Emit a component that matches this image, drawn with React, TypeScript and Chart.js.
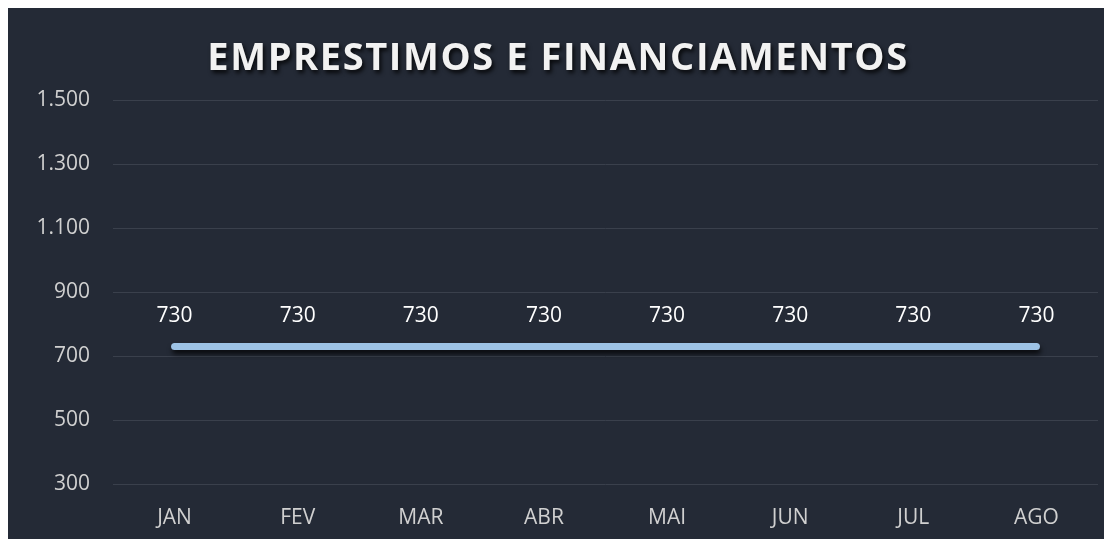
import React, { useEffect, useRef } from "react";
import { Chart, registerables } from "chart.js";

Chart.register(...registerables);

const TITLE = "EMPRESTIMOS E FINANCIAMENTOS";
const MONTHS = ["JAN", "FEV", "MAR", "ABR", "MAI", "JUN", "JUL", "AGO"];
const VALUES = [730, 730, 730, 730, 730, 730, 730, 730];
const Y_MIN = 300;
const Y_MAX = 1500;
const Y_STEP = 200;

const BG = "#242a36";
const FONT = "'Open Sans', sans-serif";

const fmt = (v: number) => v.toLocaleString("pt-BR");

const bgPlugin = {
  id: "bg",
  beforeDraw(chart: any) {
    const { ctx, width, height } = chart;
    ctx.save();
    ctx.fillStyle = BG;
    ctx.fillRect(0, 0, width, height);
    ctx.restore();
  },
};

const titlePlugin = {
  id: "customTitle",
  afterDraw(chart: any) {
    const { ctx, width } = chart;
    ctx.save();
    ctx.font = `bold 38px ${FONT}`;
    (ctx as any).letterSpacing = "1.6px";
    ctx.textAlign = "center";
    ctx.textBaseline = "middle";
    ctx.shadowColor = "rgba(0,0,0,0.8)";
    ctx.shadowOffsetX = 2;
    ctx.shadowOffsetY = 3;
    ctx.shadowBlur = 4;
    ctx.fillStyle = "#f2f2f2";
    ctx.fillText(TITLE, width / 2, 51);
    ctx.restore();
  },
};

const shadowPlugin = {
  id: "lineShadow",
  beforeDatasetDraw(chart: any) {
    const ctx = chart.ctx;
    ctx.save();
    ctx.shadowColor = "rgba(0,0,0,0.75)";
    ctx.shadowOffsetX = 1;
    ctx.shadowOffsetY = 4;
    ctx.shadowBlur = 5;
  },
  afterDatasetDraw(chart: any) {
    chart.ctx.restore();
  },
};

const labelPlugin = {
  id: "dataLabels",
  afterDatasetsDraw(chart: any) {
    const { ctx } = chart;
    const meta = chart.getDatasetMeta(0);
    ctx.save();
    ctx.font = `21px ${FONT}`;
    ctx.fillStyle = "#ffffff";
    ctx.textAlign = "center";
    ctx.textBaseline = "middle";
    meta.data.forEach((pt: any, i: number) => {
      ctx.fillText(fmt(VALUES[i]), pt.x, pt.y - 30);
    });
    ctx.restore();
  },
};

export default function App() {
  const ref = useRef<HTMLCanvasElement | null>(null);

  useEffect(() => {
    if (!ref.current) return;
    const chart = new Chart(ref.current, {
      type: "line",
      data: {
        labels: MONTHS,
        datasets: [
          {
            data: VALUES,
            borderColor: "#9dc3e6",
            borderWidth: 7,
            borderCapStyle: "round",
            pointRadius: 0,
            pointHoverRadius: 0,
            tension: 0,
            fill: false,
          },
        ],
      },
      options: {
        animation: false,
        responsive: false,
        maintainAspectRatio: false,
        layout: { padding: { top: 92, right: 10, left: 0, bottom: 0 } },
        plugins: {
          legend: { display: false },
          title: { display: false },
          tooltip: { enabled: false },
        },
        scales: {
          x: {
            offset: true,
            grid: { display: false, drawTicks: false },
            border: { display: false },
            ticks: {
              color: "#d0d0d0",
              font: { family: FONT, size: 21 },
              padding: 21,
            },
            afterFit(scale: any) {
              scale.height = 55;
            },
          },
          y: {
            min: Y_MIN,
            max: Y_MAX,
            grid: { color: "#3a404c", lineWidth: 1, drawTicks: false },
            border: { display: false },
            ticks: {
              stepSize: Y_STEP,
              color: "#d0d0d0",
              font: { family: FONT, size: 21 },
              padding: 23,
              callback: (v: any) => fmt(Number(v)),
            },
            afterFit(scale: any) {
              scale.width = 105;
            },
          },
        },
      },
      plugins: [bgPlugin, shadowPlugin, labelPlugin, titlePlugin],
    });
    return () => chart.destroy();
  }, []);

  return (
    <div style={{ width: 1100, height: 531 }}>
      <canvas ref={ref} width={1100} height={531} style={{ display: "block" }} />
    </div>
  );
}
